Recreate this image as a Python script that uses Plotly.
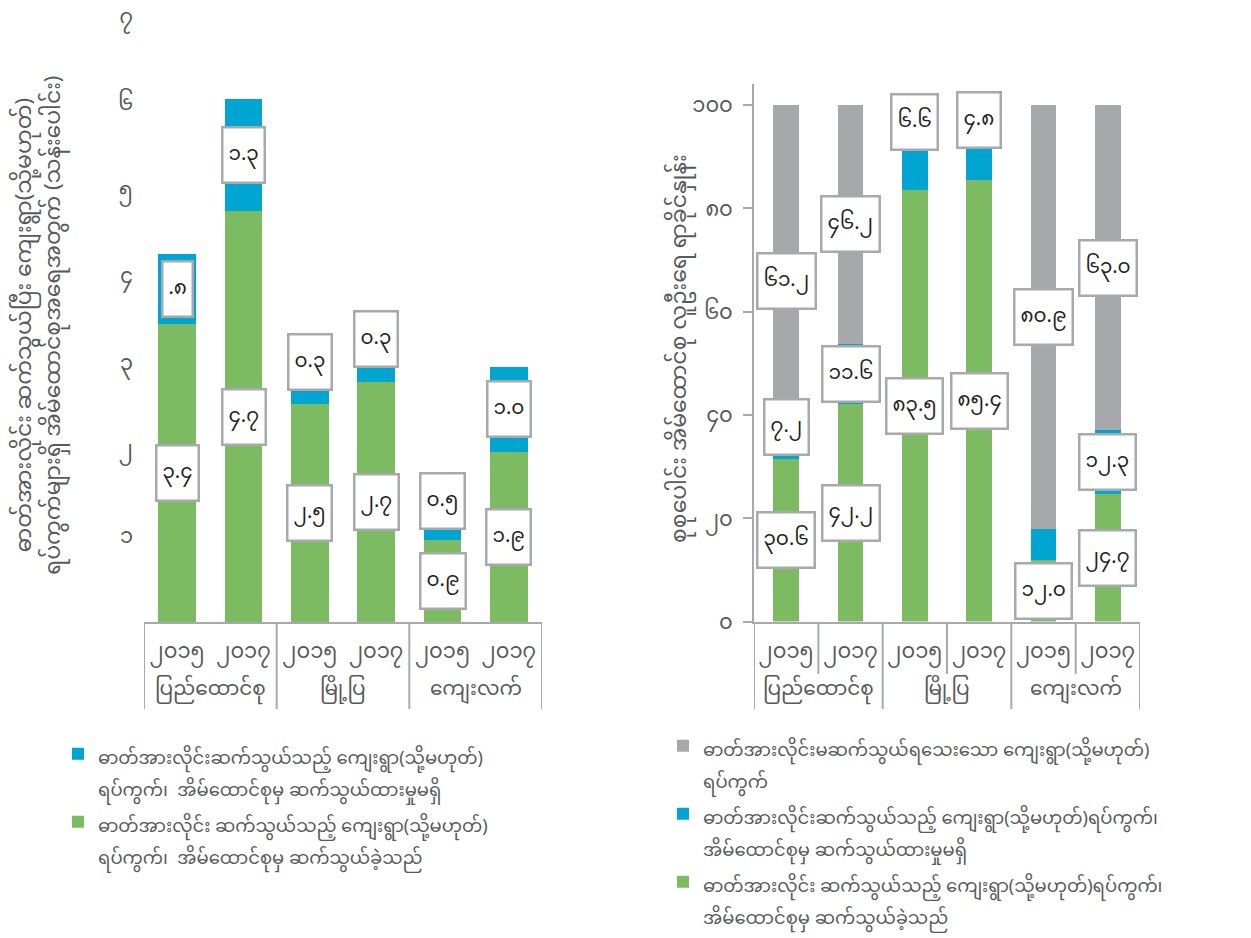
import plotly.graph_objects as go

# ---------------- data ----------------
groups = ["ပြည်ထောင်စု", "မြို့ပြ", "ကျေးလက်"]
years = ["၂၀၁၅", "၂၀၁၇"]

# Left panel: households (millions) in electrified villages / wards
left_connected = [3.45, 4.75, 2.52, 2.77, 0.95, 1.97]
left_not_connected = [0.80, 1.30, 0.15, 0.17, 0.11, 0.98]
left_connected_labels = ["၃.၄", "၄.၇", "၂.၅", "၂.၇", "၀.၉", "၁.၉"]
left_not_connected_labels = [".၈", "၁.၃", "၀.၃", "၀.၃", "၀.၅", "၁.၀"]
left_tickvals = [1, 2, 3, 4, 5, 6, 7]
left_ticktext = ["၁", "၂", "၃", "၄", "၅", "၆", "၇"]

# Right panel: percent of all households
right_connected = [31.5, 42.2, 83.5, 85.5, 12.0, 24.7]
right_not_connected = [0.5, 11.6, 9.7, 8.7, 6.0, 12.3]
right_unelectrified = [68.0, 46.2, 6.8, 5.8, 82.0, 63.0]
right_connected_labels = ["၃၀.၆", "၄၂.၂", "၈၃.၅", "၈၅.၄", "၁၂.၀", "၂၄.၇"]
right_not_connected_labels = ["၇.၂", "၁၁.၆", "", "", "", "၁၂.၃"]
right_unelectrified_labels = ["၆၁.၂", "၄၆.၂", "၆.၆", "၄.၈", "၈၀.၉", "၆၃.၀"]
right_tickvals = [0, 20, 40, 60, 80, 100]
right_ticktext = ["၀", "၂၀", "၄၀", "၆၀", "၈၀", "၁၀၀"]

left_ytitle = ("ဓာတ်အားလိုင်း ဆက်သွယ်ပြီး ကျေးရွာ(သို့မဟုတ်)<br>"
               "ရပ်ကွက်များရှိ အိမ်ထောင်စုအရေအတွက် (သန်းပေါင်း)")
right_ytitle = "စုစုပေါင်း အိမ်ထောင်စု လူဦးရေ ရာခိုင်နှုန်း"

name_green_l = "ဓာတ်အားလိုင်း ဆက်သွယ်သည့် ကျေးရွာ(သို့မဟုတ်)<br>ရပ်ကွက်၊  အိမ်ထောင်စုမှ ဆက်သွယ်ခဲ့သည်"
name_blue_l = "ဓာတ်အားလိုင်းဆက်သွယ်သည့် ကျေးရွာ(သို့မဟုတ်)<br>ရပ်ကွက်၊  အိမ်ထောင်စုမှ ဆက်သွယ်ထားမှုမရှိ"
name_gray_r = "ဓာတ်အားလိုင်းမဆက်သွယ်ရသေးသော ကျေးရွာ(သို့မဟုတ်)<br>ရပ်ကွက်"
name_blue_r = "ဓာတ်အားလိုင်းဆက်သွယ်သည့် ကျေးရွာ(သို့မဟုတ်)ရပ်ကွက်၊<br>အိမ်ထောင်စုမှ ဆက်သွယ်ထားမှုမရှိ"
name_green_r = "ဓာတ်အားလိုင်း ဆက်သွယ်သည့် ကျေးရွာ(သို့မဟုတ်)ရပ်ကွက်၊<br>အိမ်ထောင်စုမှ ဆက်သွယ်ခဲ့သည်"

# ---------------- styles ----------------
W, H = 1251, 938
OFF = 8  # page offset of the figure inside the browser window
FONT = "Noto Sans Myanmar, Padauk, Myanmar Text, Myanmar3, Noto Sans, DejaVu Sans, sans-serif"
GREEN = "#7DBB63"
BLUE = "#00A5D2"
GRAY = "#A7A8AB"
LINE = "#A7A9AC"
TXT = "#58595B"
DARK = "#231F20"

n = len(groups) * len(years)
idx = list(range(n))
year_text = years * len(groups)
group_pos = [i * len(years) + (len(years) - 1) / 2 for i in range(len(groups))]
group_bounds = [i * len(years) - 0.5 for i in range(len(groups) + 1)]
year_bounds = [i * len(years) + 0.5 for i in range(len(groups))]

def py(px):
    return min(1.0, (H - (px - OFF)) / H)

def pxx(px):
    return (px - OFF) / W

# left panel geometry (screen pixels): baseline at 622, 86.5 px per unit
L_BASE, L_PPU, L_TOP = 622.0, 86.5, 10.0
L_X = [pxx(144), pxx(542)]
L_Y = [py(L_BASE), py(L_TOP)]
L_RANGE = [0, (L_BASE - L_TOP) / L_PPU]
# right panel geometry: baseline 621.6, 5.167 px per percent
R_BASE, R_PPU, R_TOP = 621.6, 5.167, 84.0
R_X = [pxx(754), pxx(1140)]
R_Y = [py(R_BASE), py(R_TOP)]
R_RANGE = [0, (R_BASE - R_TOP) / R_PPU]

def wrap(s, size):
    return "<br>".join(f"<span style='font-size:{size}px'>{p}</span>" for p in s.split("<br>"))

fig = go.Figure()

def add_bar(x, y, color, name, xa, ya, leg, width):
    fig.add_trace(go.Bar(x=x, y=y, marker=dict(color=color, line=dict(width=0)),
                         name=wrap(name, 18), width=width, xaxis=xa, yaxis=ya,
                         legend=leg, hoverinfo="skip"))

add_bar(idx, left_connected, GREEN, name_green_l, "x", "y", "legend", 0.566)
add_bar(idx, left_not_connected, BLUE, name_blue_l, "x", "y", "legend", 0.566)
add_bar(idx, right_connected, GREEN, name_green_r, "x2", "y2", "legend2", 0.40)
add_bar(idx, right_not_connected, BLUE, name_blue_r, "x2", "y2", "legend2", 0.40)
add_bar(idx, right_unelectrified, GRAY, name_gray_r, "x2", "y2", "legend2", 0.40)

annotations = []
shapes = []

def seg_labels(xref, yref, segments, labels, px_per_unit):
    base = [0.0] * n
    for vals, labs in zip(segments, labels):
        for i, (v, t) in enumerate(zip(vals, labs)):
            if t:
                if v * px_per_unit < 25:
                    yv, anchor = base[i] + v, "bottom"
                else:
                    yv, anchor = base[i] + v / 2, "middle"
                annotations.append(dict(
                    x=i, y=yv, xref=xref, yref=yref, text=t, showarrow=False,
                    yanchor=anchor, xanchor="center",
                    font=dict(family=FONT, size=20, color=DARK),
                    bgcolor="white", bordercolor=LINE, borderwidth=2.5, borderpad=5))
            base[i] += v

seg_labels("x", "y", [left_connected, left_not_connected],
           [left_connected_labels, left_not_connected_labels], L_PPU)
seg_labels("x2", "y2", [right_connected, right_not_connected, right_unelectrified],
           [right_connected_labels, right_not_connected_labels, right_unelectrified_labels], R_PPU)

# group labels and dividers
for xr in ["x", "x2"]:
    for g, gp in zip(groups, group_pos):
        annotations.append(dict(x=gp, y=py(690), xref=xr, yref="paper", text=g,
                                showarrow=False, yanchor="middle", xanchor="center",
                                font=dict(family=FONT, size=20, color=TXT)))
    for b in group_bounds:
        shapes.append(dict(type="line", xref=xr, yref="paper", x0=b, x1=b,
                           y0=py(622), y1=py(709), line=dict(color=LINE, width=2)))
for b in year_bounds:
    shapes.append(dict(type="line", xref="x2", yref="paper", x0=b, x1=b,
                       y0=py(622), y1=py(674), line=dict(color=LINE, width=2)))

# axis titles
annotations.append(dict(x=pxx(40), y=py(326), xref="paper", yref="paper", text=left_ytitle,
                        textangle=-90, showarrow=False, align="center",
                        xanchor="center", yanchor="middle",
                        font=dict(family=FONT, size=22, color=TXT)))
annotations.append(dict(x=pxx(681), y=py(348), xref="paper", yref="paper", text=right_ytitle,
                        textangle=-90, showarrow=False, xanchor="center", yanchor="middle",
                        font=dict(family=FONT, size=22, color=TXT)))

xcommon = dict(range=[-0.5, n - 0.5], tickmode="array", tickvals=idx, ticktext=year_text,
               showgrid=False, zeroline=False, showline=True, linecolor=LINE, linewidth=2,
               ticks="", ticklabelstandoff=9,
               tickfont=dict(family=FONT, size=21, color=TXT), fixedrange=True)

fig.update_layout(
    width=W, height=H, margin=dict(l=0, r=0, t=0, b=0, autoexpand=False),
    paper_bgcolor="white", plot_bgcolor="white",
    barmode="stack", bargap=0, showlegend=True,
    font=dict(family=FONT, color=TXT),
    xaxis=dict(domain=L_X, anchor="y", **xcommon),
    yaxis=dict(domain=L_Y, anchor="x", range=L_RANGE, tickmode="array",
               tickvals=left_tickvals, ticktext=left_ticktext, showgrid=False,
               zeroline=False, showline=False, ticks="", ticklabelstandoff=10,
               ticklabeloverflow="allow",
               tickfont=dict(family=FONT, size=21, color=TXT)),
    xaxis2=dict(domain=R_X, anchor="y2", **xcommon),
    yaxis2=dict(domain=R_Y, anchor="x2", range=R_RANGE, tickmode="array",
                tickvals=right_tickvals, ticktext=right_ticktext, showgrid=False,
                zeroline=False, showline=True, linecolor=LINE, linewidth=2,
                ticks="outside", ticklen=9, tickwidth=2, tickcolor=LINE,
                ticklabelstandoff=6, ticklabeloverflow="allow",
                tickfont=dict(family=FONT, size=21, color=TXT)),
    legend=dict(x=pxx(58), y=py(731), xanchor="left", yanchor="top",
                traceorder="reversed", valign="top", bgcolor="rgba(0,0,0,0)",
                font=dict(family=FONT, size=25, color=TXT), tracegroupgap=0),
    legend2=dict(x=pxx(663), y=py(723), xanchor="left", yanchor="top",
                 traceorder="reversed", valign="top", bgcolor="rgba(0,0,0,0)",
                 font=dict(family=FONT, size=25, color=TXT), tracegroupgap=0),
    annotations=annotations,
    shapes=shapes,
)

fig.write_html("out.html")
